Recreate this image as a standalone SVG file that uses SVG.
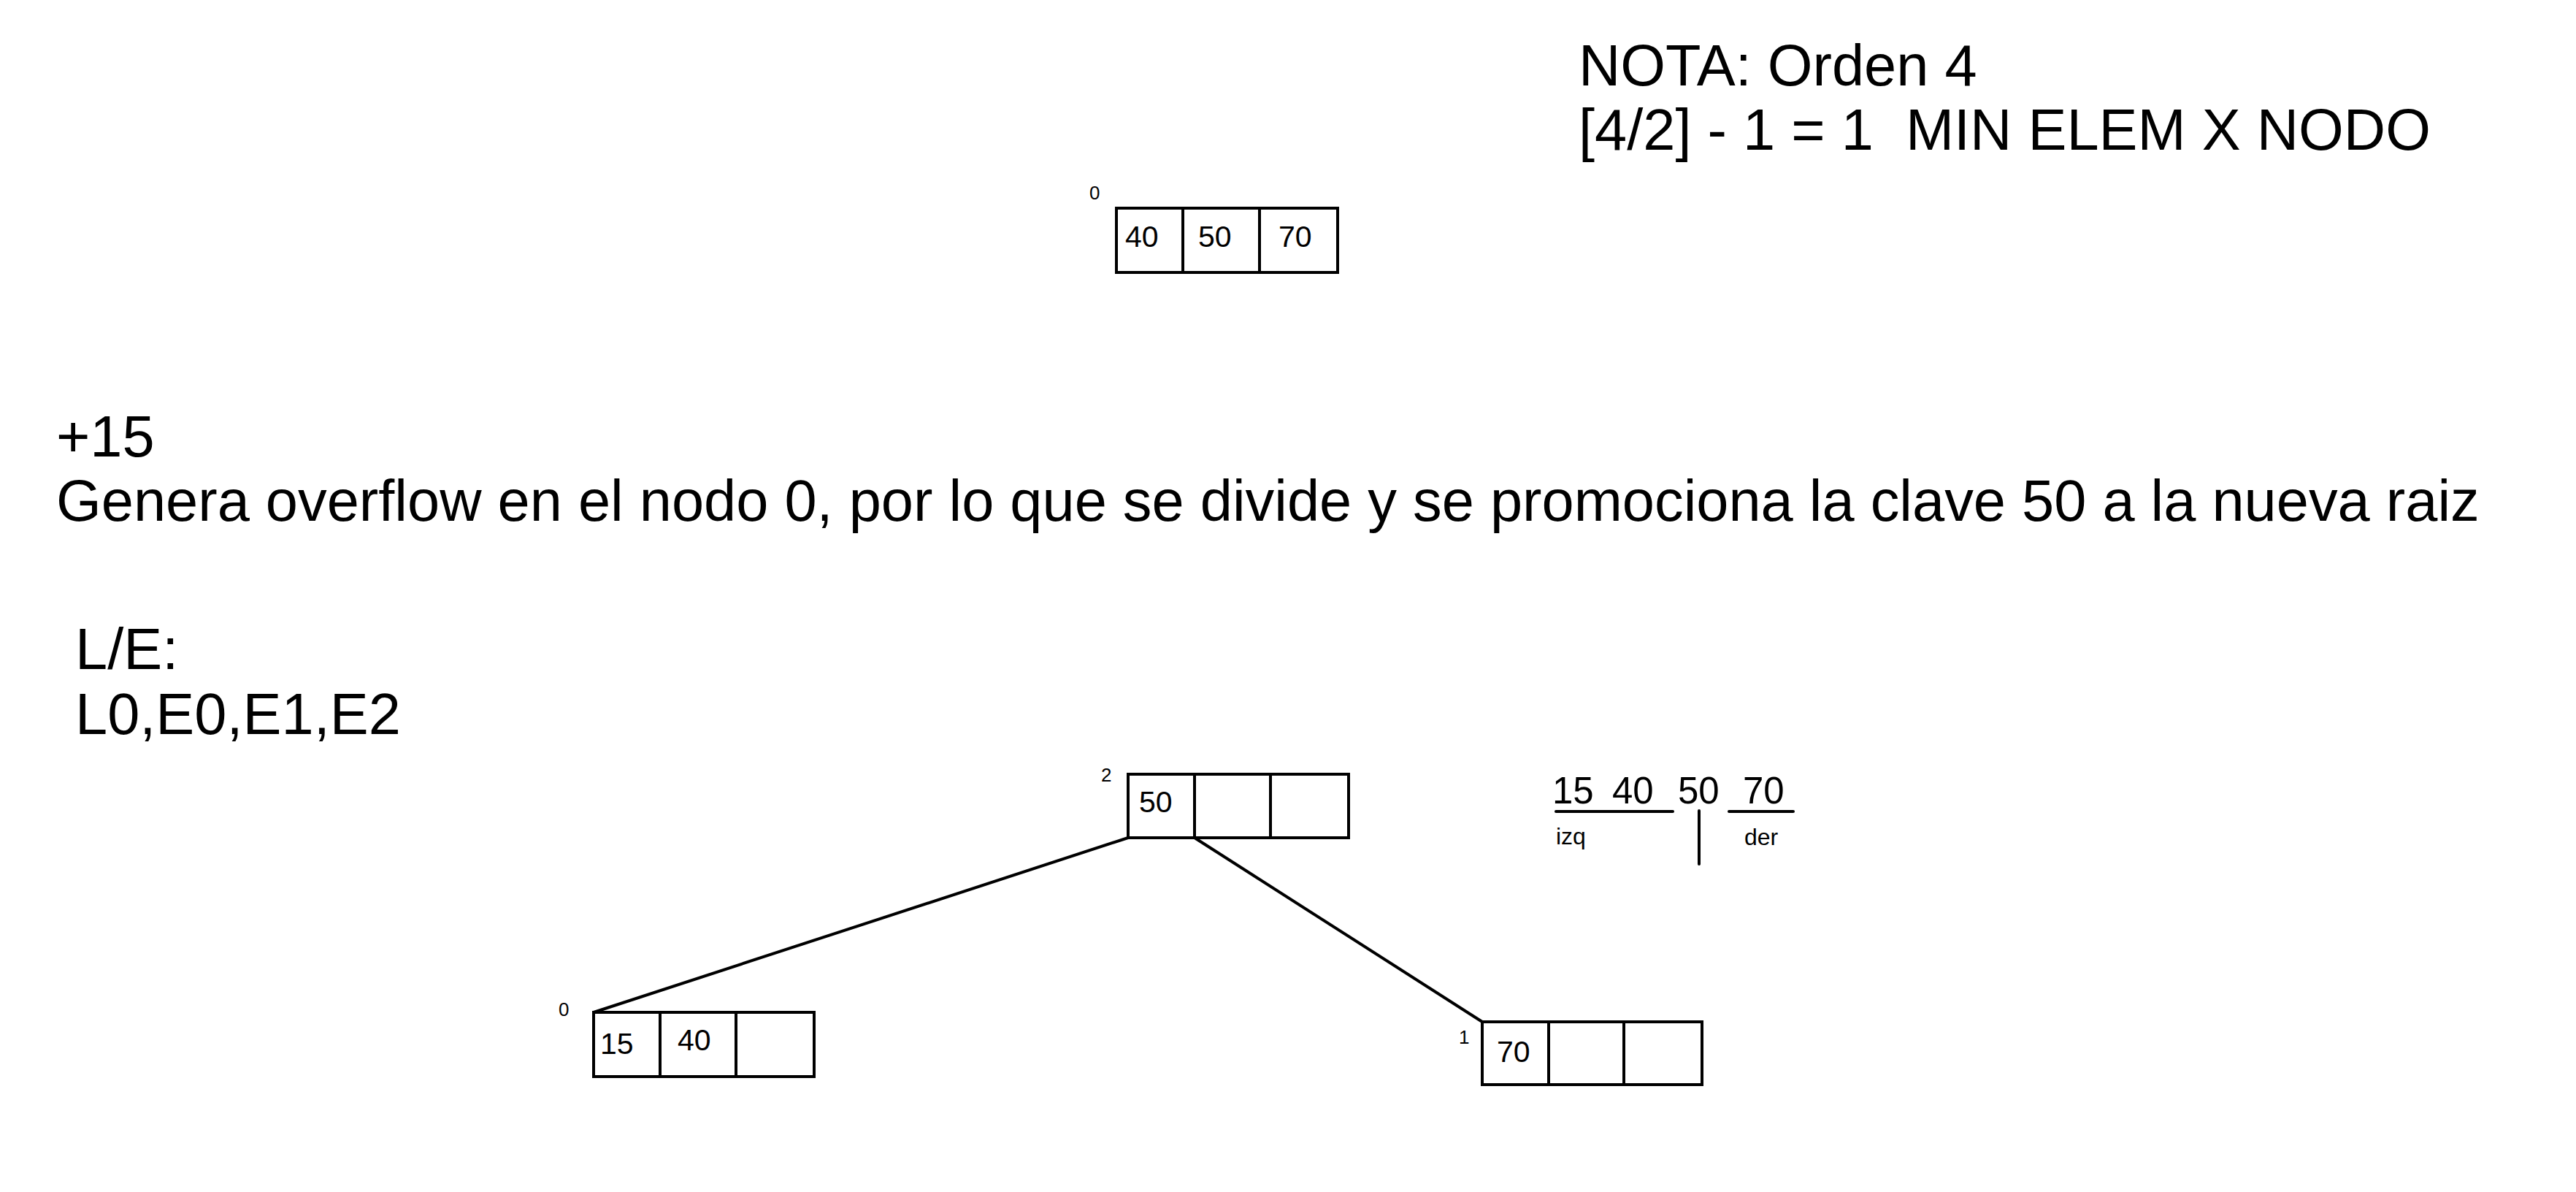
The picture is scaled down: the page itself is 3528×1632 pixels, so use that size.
<svg xmlns="http://www.w3.org/2000/svg" width="3528" height="1632" viewBox="0 0 3528 1632">
<style>
text{font-family:"Liberation Sans",Arial,sans-serif;fill:#000}
.big{font-size:79.4px}
.key{font-size:41px}
.idx{font-size:26px}
.small{font-size:32px}
.cell{fill:#fff;stroke:#000;stroke-width:4}
.ln{stroke:#000;stroke-width:4;fill:none}
.ln2{stroke:#000;stroke-width:4;fill:none;stroke-linecap:round}
</style>
<rect width="3528" height="1632" fill="#fff"/>
<g id="notes">
<text class="big" x="2162" y="117">NOTA: Orden 4</text>
<text class="big" x="2162" y="205" xml:space="preserve">[4/2] - 1 = 1  MIN ELEM X NODO</text>
<text class="big" x="77" y="625">+15</text>
<text class="big" x="77" y="713">Genera overflow en el nodo 0, por lo que se divide y se promociona la clave 50 a la nueva raiz</text>
<text class="big" x="103" y="916">L/E:</text>
<text class="big" x="103" y="1005">L0,E0,E1,E2</text>
</g>
<g id="node-top-0">
<rect class="cell" x="1529" y="285" width="303" height="88"/>
<line class="ln" x1="1620" y1="285" x2="1620" y2="373"/>
<line class="ln" x1="1725" y1="285" x2="1725" y2="373"/>
<text class="idx" x="1492" y="273">0</text>
<text class="key" x="1541" y="338">40</text>
<text class="key" x="1641" y="338">50</text>
<text class="key" x="1751" y="338">70</text>
</g>
<g id="connectors">
<line class="ln" x1="1545" y1="1147" x2="813" y2="1386"/>
<line class="ln" x1="1636" y1="1147" x2="2030" y2="1399"/>
</g>
<g id="node-root-2">
<rect class="cell" x="1545" y="1060" width="302" height="87"/>
<line class="ln" x1="1636" y1="1060" x2="1636" y2="1147"/>
<line class="ln" x1="1740" y1="1060" x2="1740" y2="1147"/>
<text class="idx" x="1508" y="1070">2</text>
<text class="key" x="1560" y="1112">50</text>
</g>
<g id="node-0">
<rect class="cell" x="813" y="1386" width="302" height="88"/>
<line class="ln" x1="904" y1="1386" x2="904" y2="1474"/>
<line class="ln" x1="1008" y1="1386" x2="1008" y2="1474"/>
<text class="idx" x="765" y="1391">0</text>
<text class="key" x="822" y="1443">15</text>
<text class="key" x="928" y="1438">40</text>
</g>
<g id="node-1">
<rect class="cell" x="2030" y="1399" width="301" height="86"/>
<line class="ln" x1="2121" y1="1399" x2="2121" y2="1485"/>
<line class="ln" x1="2224" y1="1399" x2="2224" y2="1485"/>
<text class="idx" x="1998" y="1429">1</text>
<text class="key" x="2050" y="1454">70</text>
</g>
<g id="split-note">
<text class="key" x="2126" y="1100" style="font-size:51px">15</text>
<text class="key" x="2208" y="1100" style="font-size:51px">40</text>
<text class="key" x="2298" y="1100" style="font-size:51px">50</text>
<text class="key" x="2387" y="1100" style="font-size:51px">70</text>
<line class="ln2" x1="2131" y1="1111" x2="2291" y2="1111"/>
<line class="ln2" x1="2368" y1="1111" x2="2456" y2="1111"/>
<line class="ln2" x1="2327" y1="1110" x2="2327" y2="1183"/>
<text class="small" x="2131" y="1156">izq</text>
<text class="small" x="2389" y="1157">der</text>
</g>
</svg>
